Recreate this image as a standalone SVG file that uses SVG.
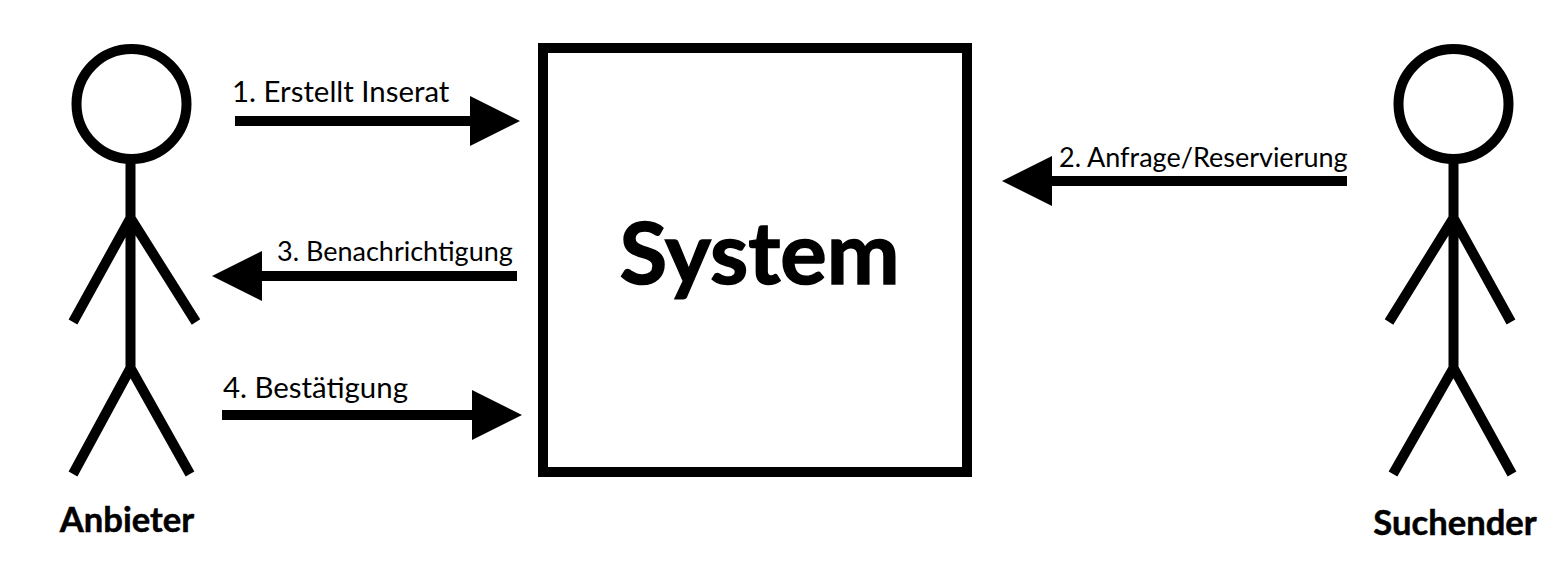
<svg xmlns="http://www.w3.org/2000/svg" width="1562" height="587" viewBox="0 0 1562 587">
<style>
.l{stroke:#000;stroke-width:10;fill:none}
.t{font-family:Lato,"Open Sans",sans-serif;fill:#000;font-size:27px}
.m{font-size:29.4px}
.b{font-family:Lato,"Open Sans",sans-serif;fill:#000;font-weight:700;font-size:34.6px;text-anchor:middle;stroke:#000;stroke-width:.5px}
</style>
<rect width="1562" height="587" fill="#fff"/>
<g id="anbieter">
<circle class="l" cx="131.5" cy="104" r="55"/>
<path class="l" d="M130.5 158V368M130.5 218L73 322M130.5 218L196 322M130.5 368L73 474M130.5 368L190 474"/>
<text class="b" x="127" y="532">Anbieter</text>
</g>
<g id="suchender">
<circle class="l" cx="1453.5" cy="104" r="55"/>
<path class="l" d="M1453.5 158V368M1453.5 218L1389 322M1453.5 218L1511 322M1453.5 368L1393 474M1453.5 368L1512 474"/>
<text class="b" x="1455" y="534.5">Suchender</text>
</g>
<g id="system">
<rect x="543" y="48" width="424" height="424" fill="none" stroke="#000" stroke-width="10"/>
<text x="759.5" y="284" text-anchor="middle" stroke="#000" stroke-width="1.5" style="font-family:Lato,'Open Sans',sans-serif;font-weight:700;font-size:87px">System</text>
</g>
<g id="connectors">
<path class="l" d="M235 121H475M517 276H258M1347 181H1048M222 415H476"/>
<path d="M520 121L470 96V146ZM212 276L262 251V301ZM1002 181L1052 156V206ZM522 415L472 390V440Z"/>
</g>
<g id="labels">
<text class="t m" x="232" y="102">1. Erstellt Inserat</text>
<text class="t" x="1059" y="166.5">2. Anfrage/Reservierung</text>
<text class="t" x="277" y="260.5">3. Benachrichtigung</text>
<text class="t m" x="223" y="398">4. Bestätigung</text>
</g>
</svg>
